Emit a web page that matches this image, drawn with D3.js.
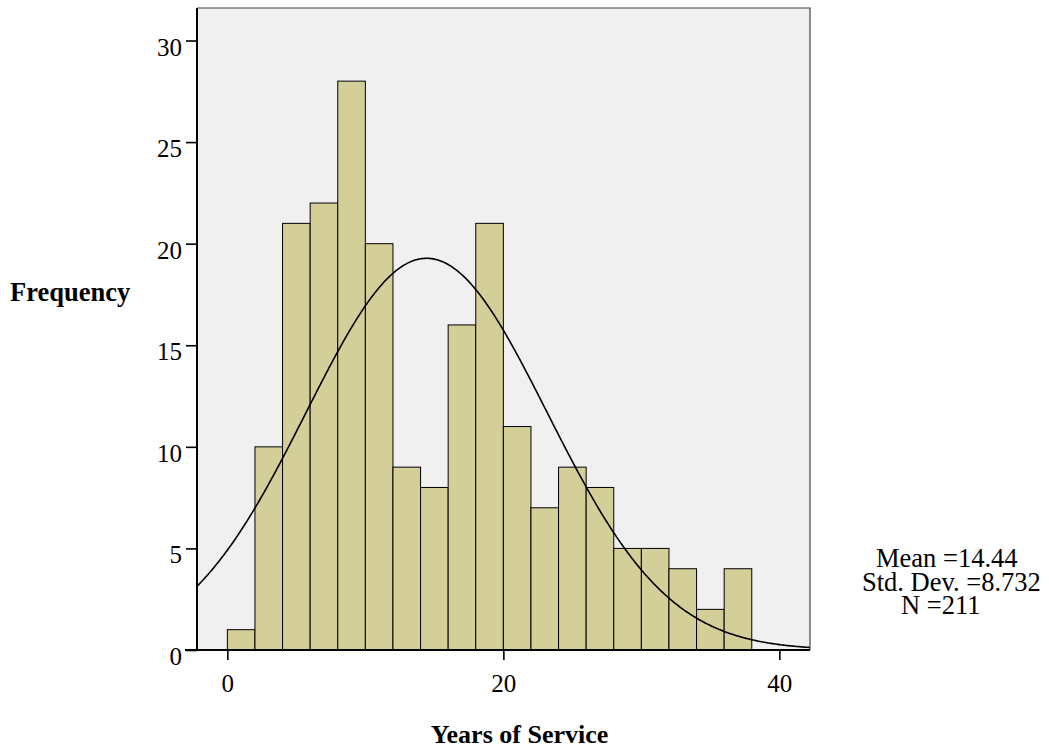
<!DOCTYPE html>
<html>
<head>
<meta charset="utf-8">
<script src="https://cdn.jsdelivr.net/npm/d3@7"></script>
<style>
  body { margin: 0; background: #fff; }
  text { font-family: "Liberation Serif", "Times New Roman", serif; fill: #000; }
</style>
</head>
<body>
<svg id="chart" width="1049" height="751"></svg>
<script>
const svg = d3.select("#chart");

// 2-year bins of Years of Service
const binStarts = [0, 2, 4, 6, 8, 10, 12, 14, 16, 18, 20, 22, 24, 26, 28, 30, 32, 34, 36];
const counts    = [1, 10, 21, 22, 28, 20, 9, 8, 16, 21, 11, 7, 9, 8, 5, 5, 4, 2, 4];
const binWidth = 2;
const stats = { mean: 14.44, sd: 8.732, n: 211 };
const xTicks = [0, 20, 40];
const yTicks = [0, 5, 10, 15, 20, 25, 30];
const statLines = ["Mean =14.44", "Std. Dev. =8.732", "N =211"];

const plot = { left: 197, right: 810, top: 8, bottom: 650 };

const x = d3.scaleLinear().domain([-2.2, 42.22]).range([plot.left, plot.right]);
const y = d3.scaleLinear().domain([0, 31.6]).range([plot.bottom, plot.top]);

// background
svg.append("rect")
  .attr("x", plot.left).attr("y", plot.top)
  .attr("width", plot.right - plot.left).attr("height", plot.bottom - plot.top)
  .attr("fill", "#f0f0f0");

svg.append("clipPath").attr("id", "clip")
  .append("rect")
  .attr("x", plot.left).attr("y", plot.top)
  .attr("width", plot.right - plot.left).attr("height", plot.bottom - plot.top);

// bars
svg.append("g")
  .selectAll("rect")
  .data(binStarts.map((s, i) => ({ s, c: counts[i] })))
  .join("rect")
  .attr("x", d => x(d.s))
  .attr("y", d => y(d.c))
  .attr("width", d => x(d.s + binWidth) - x(d.s))
  .attr("height", d => y(0) - y(d.c))
  .attr("fill", "#d4cf98")
  .attr("stroke", "#000")
  .attr("stroke-width", 1);

// normal curve scaled to counts
const norm = v => stats.n * binWidth / (stats.sd * Math.sqrt(2 * Math.PI)) *
  Math.exp(-0.5 * Math.pow((v - stats.mean) / stats.sd, 2));
const xs = d3.range(x.domain()[0], x.domain()[1] + 0.1, 0.1);
svg.append("path")
  .datum(xs)
  .attr("clip-path", "url(#clip)")
  .attr("d", d3.line().x(d => x(d)).y(d => y(norm(d))))
  .attr("fill", "none")
  .attr("stroke", "#000")
  .attr("stroke-width", 1.6);

// frame: top and right in dark gray
svg.append("path")
  .attr("d", `M${plot.left},${plot.top}H${plot.right}V${plot.bottom}`)
  .attr("fill", "none")
  .attr("stroke", "#444")
  .attr("stroke-width", 1.2);

// y axis
const yAxis = svg.append("g").attr("transform", `translate(${plot.left},0)`)
  .call(d3.axisLeft(y).tickValues(yTicks).tickSize(11).tickSizeOuter(0).tickPadding(4));
yAxis.select(".domain").remove();
yAxis.append("line")
  .attr("y1", plot.top).attr("y2", plot.bottom)
  .attr("stroke", "#000").attr("stroke-width", 2);
yAxis.selectAll(".tick line").attr("stroke", "#000").attr("stroke-width", 1.6);
yAxis.selectAll(".tick text")
  .attr("font-size", 25).attr("font-family", "Liberation Serif").attr("fill", "#000")
  .attr("dy", "0.58em");

// x axis
const xAxis = svg.append("g").attr("transform", `translate(0,${plot.bottom})`)
  .call(d3.axisBottom(x).tickValues(xTicks).tickSize(10).tickSizeOuter(0).tickPadding(14));
xAxis.select(".domain").remove();
xAxis.append("line")
  .attr("x1", 185).attr("x2", plot.right)
  .attr("stroke", "#000").attr("stroke-width", 2);
xAxis.selectAll(".tick line").attr("stroke", "#000").attr("stroke-width", 1.6);
xAxis.selectAll(".tick text")
  .attr("font-size", 25).attr("font-family", "Liberation Serif").attr("fill", "#000");

// axis titles
svg.append("text")
  .attr("x", 10).attr("y", 301)
  .attr("font-size", 26.5).attr("font-weight", "bold")
  .text("Frequency");

svg.append("text")
  .attr("x", (plot.left + plot.right) / 2 + 16).attr("y", 743)
  .attr("text-anchor", "middle")
  .attr("font-size", 26).attr("font-weight", "bold")
  .text("Years of Service");

// stats box
const statX = [876, 862, 901];
svg.append("g")
  .selectAll("text")
  .data(statLines)
  .join("text")
  .attr("x", (d, i) => statX[i])
  .attr("y", (d, i) => 567 + i * 23.5)
  .attr("font-size", 26.5)
  .text(d => d);
</script>
</body>
</html>
